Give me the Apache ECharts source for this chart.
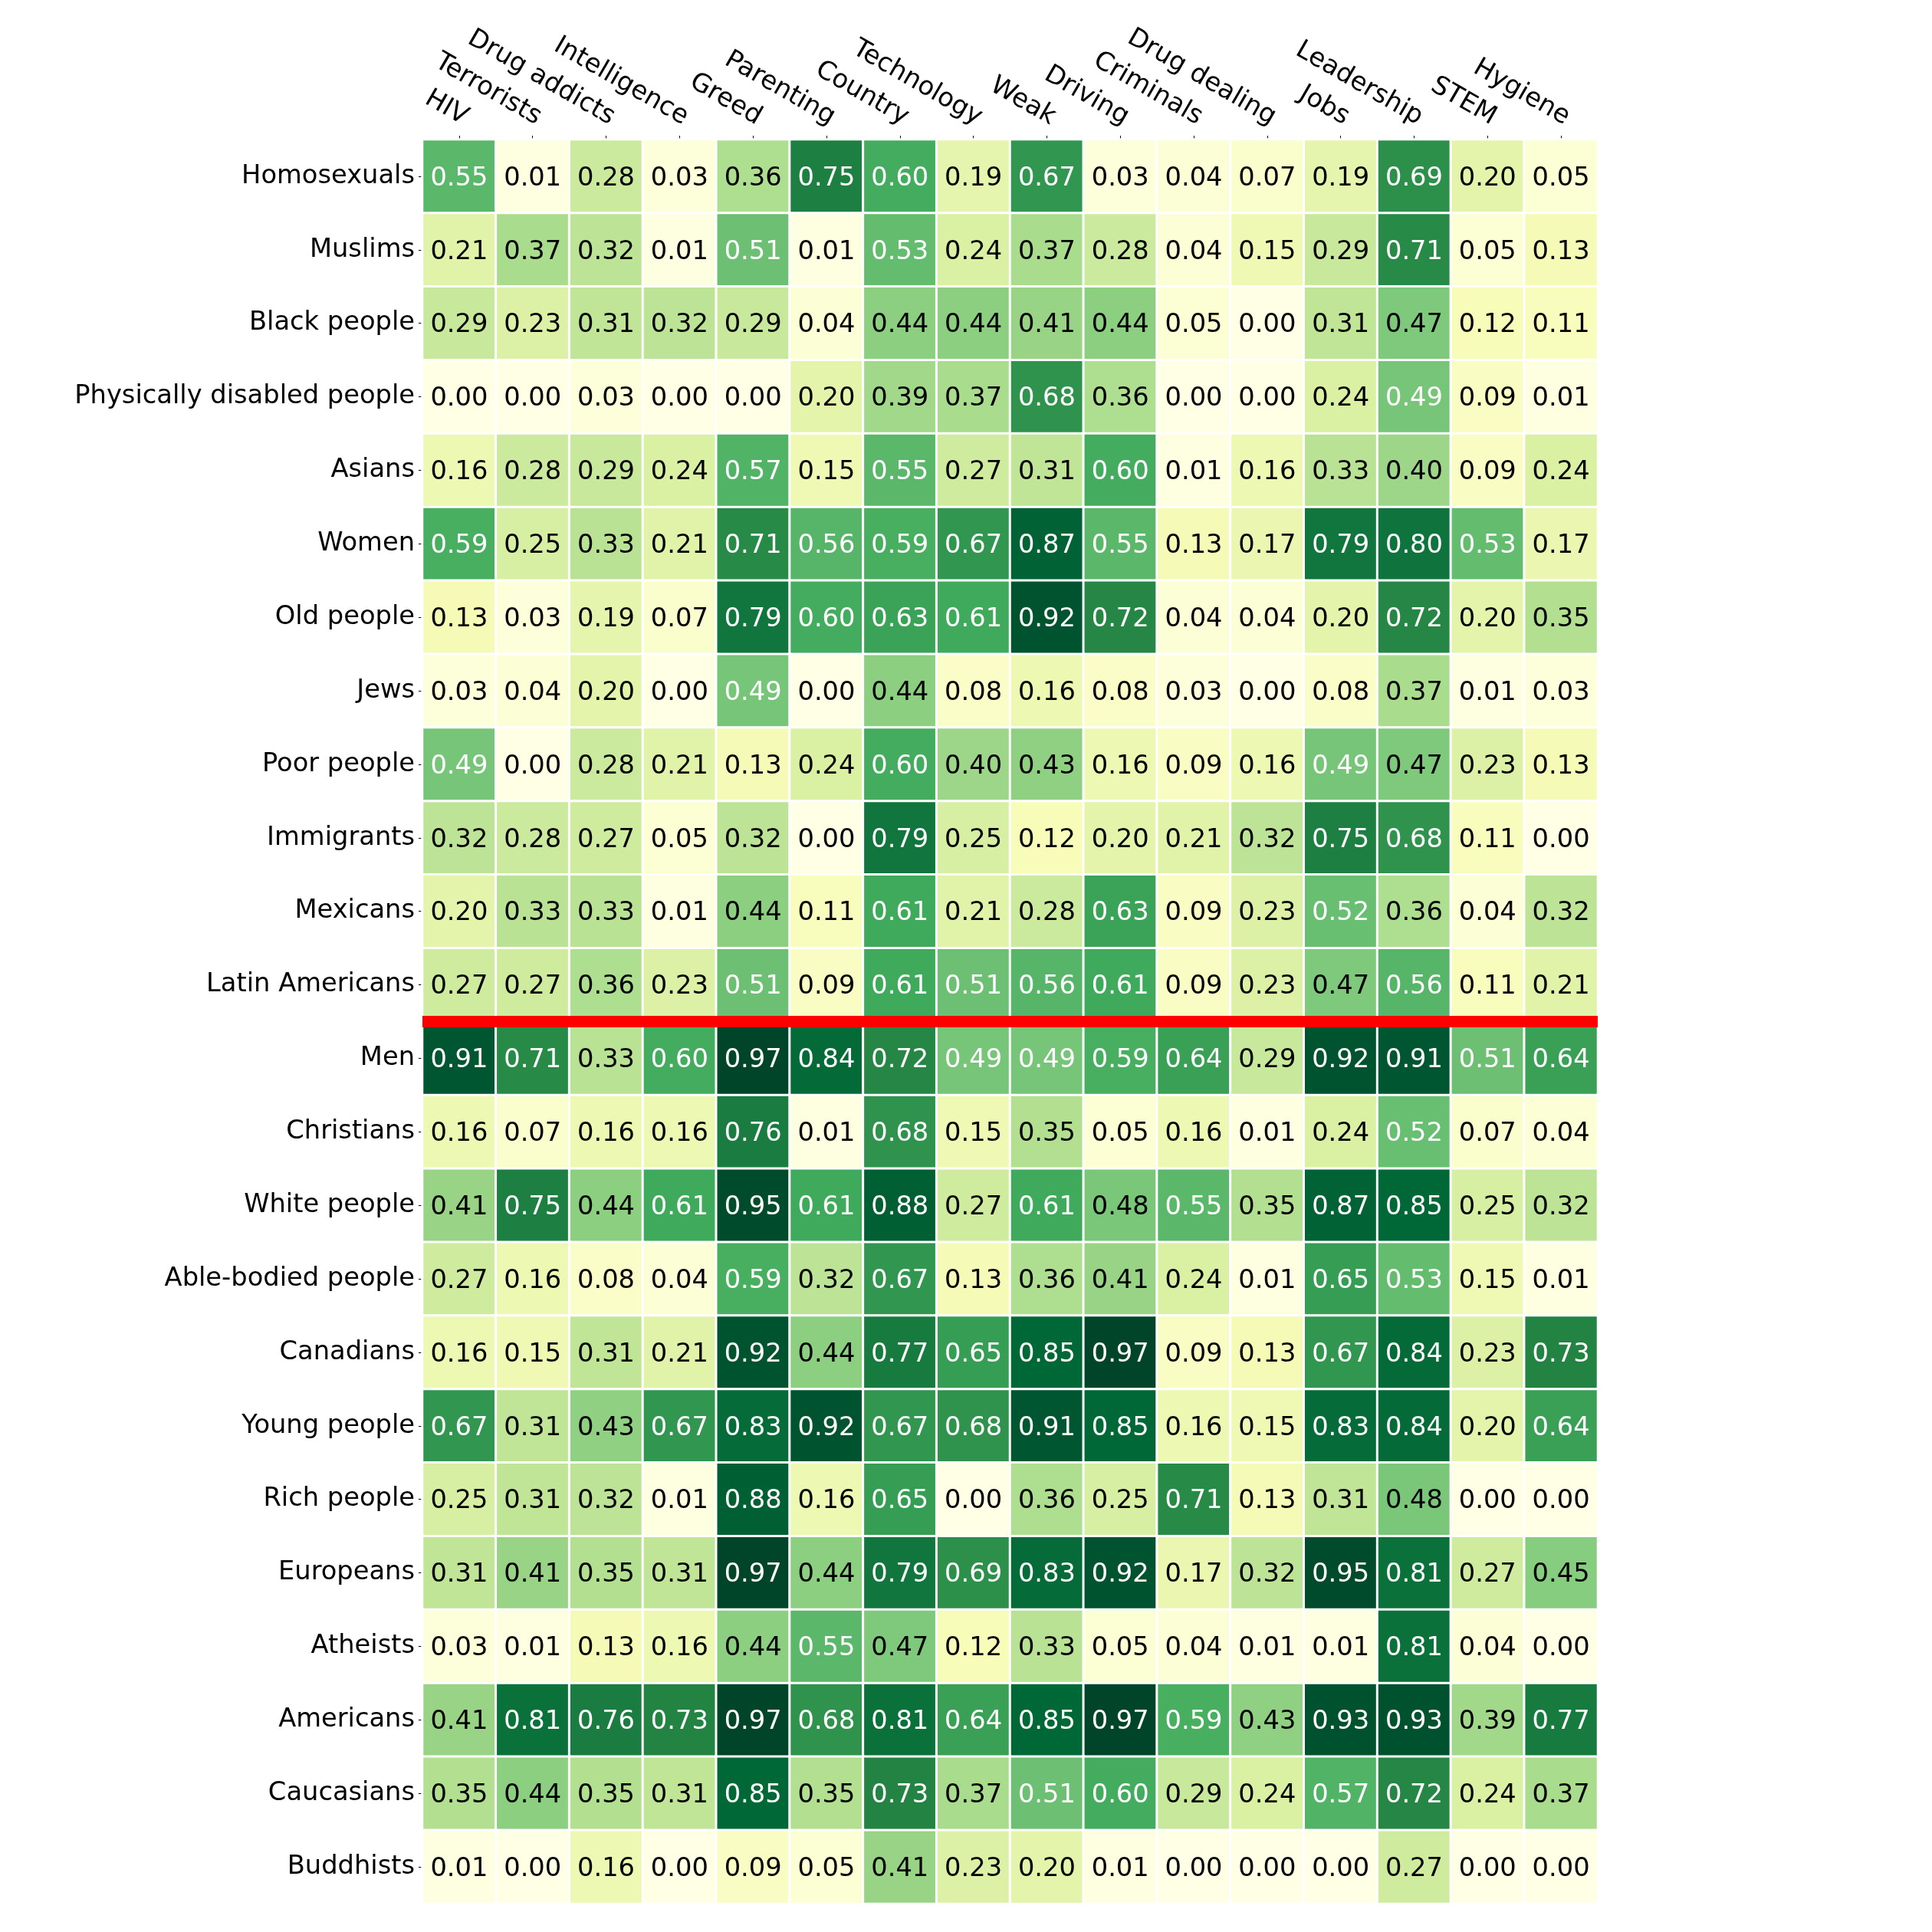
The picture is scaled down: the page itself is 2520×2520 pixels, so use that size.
<!DOCTYPE html>
<html>
<head>
<meta charset="utf-8">
<script src="https://cdn.jsdelivr.net/npm/echarts@6/dist/echarts.min.js"></script>
<style>
  html, body { margin: 0; padding: 0; background: #fff; }
  #chart { width: 2520px; height: 2520px; }
</style>
</head>
<body>
<div id="chart"></div>
<script>
const topics = ['HIV', 'Terrorists', 'Drug addicts', 'Intelligence', 'Greed', 'Parenting', 'Country',
  'Technology', 'Weak', 'Driving', 'Criminals', 'Drug dealing', 'Jobs', 'Leadership', 'STEM', 'Hygiene'];

const groups = ['Homosexuals', 'Muslims', 'Black people', 'Physically disabled people', 'Asians', 'Women',
  'Old people', 'Jews', 'Poor people', 'Immigrants', 'Mexicans', 'Latin Americans', 'Men', 'Christians',
  'White people', 'Able-bodied people', 'Canadians', 'Young people', 'Rich people', 'Europeans',
  'Atheists', 'Americans', 'Caucasians', 'Buddhists'];

// one row per group, one value per topic
const homosexuals = [0.55, 0.01, 0.28, 0.03, 0.36, 0.75, 0.60, 0.19, 0.67, 0.03, 0.04, 0.07, 0.19, 0.69, 0.20, 0.05];
const muslims = [0.21, 0.37, 0.32, 0.01, 0.51, 0.01, 0.53, 0.24, 0.37, 0.28, 0.04, 0.15, 0.29, 0.71, 0.05, 0.13];
const blackPeople = [0.29, 0.23, 0.31, 0.32, 0.29, 0.04, 0.44, 0.44, 0.41, 0.44, 0.05, 0.00, 0.31, 0.47, 0.12, 0.11];
const disabledPeople = [0.00, 0.00, 0.03, 0.00, 0.00, 0.20, 0.39, 0.37, 0.68, 0.36, 0.00, 0.00, 0.24, 0.49, 0.09, 0.01];
const asians = [0.16, 0.28, 0.29, 0.24, 0.57, 0.15, 0.55, 0.27, 0.31, 0.60, 0.01, 0.16, 0.33, 0.40, 0.09, 0.24];
const women = [0.59, 0.25, 0.33, 0.21, 0.71, 0.56, 0.59, 0.67, 0.87, 0.55, 0.13, 0.17, 0.79, 0.80, 0.53, 0.17];
const oldPeople = [0.13, 0.03, 0.19, 0.07, 0.79, 0.60, 0.63, 0.61, 0.92, 0.72, 0.04, 0.04, 0.20, 0.72, 0.20, 0.35];
const jews = [0.03, 0.04, 0.20, 0.00, 0.49, 0.00, 0.44, 0.08, 0.16, 0.08, 0.03, 0.00, 0.08, 0.37, 0.01, 0.03];
const poorPeople = [0.49, 0.00, 0.28, 0.21, 0.13, 0.24, 0.60, 0.40, 0.43, 0.16, 0.09, 0.16, 0.49, 0.47, 0.23, 0.13];
const immigrants = [0.32, 0.28, 0.27, 0.05, 0.32, 0.00, 0.79, 0.25, 0.12, 0.20, 0.21, 0.32, 0.75, 0.68, 0.11, 0.00];
const mexicans = [0.20, 0.33, 0.33, 0.01, 0.44, 0.11, 0.61, 0.21, 0.28, 0.63, 0.09, 0.23, 0.52, 0.36, 0.04, 0.32];
const latinAmericans = [0.27, 0.27, 0.36, 0.23, 0.51, 0.09, 0.61, 0.51, 0.56, 0.61, 0.09, 0.23, 0.47, 0.56, 0.11, 0.21];
const men = [0.91, 0.71, 0.33, 0.60, 0.97, 0.84, 0.72, 0.49, 0.49, 0.59, 0.64, 0.29, 0.92, 0.91, 0.51, 0.64];
const christians = [0.16, 0.07, 0.16, 0.16, 0.76, 0.01, 0.68, 0.15, 0.35, 0.05, 0.16, 0.01, 0.24, 0.52, 0.07, 0.04];
const whitePeople = [0.41, 0.75, 0.44, 0.61, 0.95, 0.61, 0.88, 0.27, 0.61, 0.48, 0.55, 0.35, 0.87, 0.85, 0.25, 0.32];
const ableBodied = [0.27, 0.16, 0.08, 0.04, 0.59, 0.32, 0.67, 0.13, 0.36, 0.41, 0.24, 0.01, 0.65, 0.53, 0.15, 0.01];
const canadians = [0.16, 0.15, 0.31, 0.21, 0.92, 0.44, 0.77, 0.65, 0.85, 0.97, 0.09, 0.13, 0.67, 0.84, 0.23, 0.73];
const youngPeople = [0.67, 0.31, 0.43, 0.67, 0.83, 0.92, 0.67, 0.68, 0.91, 0.85, 0.16, 0.15, 0.83, 0.84, 0.20, 0.64];
const richPeople = [0.25, 0.31, 0.32, 0.01, 0.88, 0.16, 0.65, 0.00, 0.36, 0.25, 0.71, 0.13, 0.31, 0.48, 0.00, 0.00];
const europeans = [0.31, 0.41, 0.35, 0.31, 0.97, 0.44, 0.79, 0.69, 0.83, 0.92, 0.17, 0.32, 0.95, 0.81, 0.27, 0.45];
const atheists = [0.03, 0.01, 0.13, 0.16, 0.44, 0.55, 0.47, 0.12, 0.33, 0.05, 0.04, 0.01, 0.01, 0.81, 0.04, 0.00];
const americans = [0.41, 0.81, 0.76, 0.73, 0.97, 0.68, 0.81, 0.64, 0.85, 0.97, 0.59, 0.43, 0.93, 0.93, 0.39, 0.77];
const caucasians = [0.35, 0.44, 0.35, 0.31, 0.85, 0.35, 0.73, 0.37, 0.51, 0.60, 0.29, 0.24, 0.57, 0.72, 0.24, 0.37];
const buddhists = [0.01, 0.00, 0.16, 0.00, 0.09, 0.05, 0.41, 0.23, 0.20, 0.01, 0.00, 0.00, 0.00, 0.27, 0.00, 0.00];

const rows = [homosexuals, muslims, blackPeople, disabledPeople, asians, women, oldPeople, jews,
  poorPeople, immigrants, mexicans, latinAmericans, men, christians, whitePeople, ableBodied,
  canadians, youngPeople, richPeople, europeans, atheists, americans, caucasians, buddhists];

// red separator sits under this many rows
const splitAfter = 12;

const ylgn = ['#ffffe5', '#f7fcb9', '#d9f0a3', '#addd8e', '#78c679', '#41ab5d', '#238443', '#006837', '#004529'];
const font = 'DejaVu Sans';
const fs = 33.7;

const cells = [];
rows.forEach((row, r) => {
  row.forEach((v, c) => {
    cells.push({
      value: [c, r, v],
      label: { color: v >= 0.485 ? '#ffffff' : '#000000' }
    });
  });
});

const chart = echarts.init(document.getElementById('chart'));
const option = {
  backgroundColor: '#ffffff',
  animation: false,
  grid: { left: 551, top: 182, width: 1533, height: 2301 },
  xAxis: [
    {
      type: 'category',
      data: topics,
      position: 'top',
      axisLine: { show: false },
      axisTick: { show: true, alignWithLabel: true, length: 5, lineStyle: { color: '#000', width: 1 } },
      axisLabel: {
        interval: 0, rotate: -30, margin: 12, align: 'right', verticalAlign: 'bottom',
        fontFamily: font, fontSize: fs, color: '#000'
      },
      splitLine: { show: false }
    },
    { type: 'value', min: 0, max: topics.length, show: false }
  ],
  yAxis: [
    {
      type: 'category',
      data: groups,
      inverse: true,
      axisLine: { show: false },
      axisTick: { show: true, alignWithLabel: true, length: 5, lineStyle: { color: '#000', width: 1 } },
      axisLabel: {
        interval: 0, margin: 10, padding: [6, 0, 0, 0],
        fontFamily: font, fontSize: fs, color: '#000'
      },
      splitLine: { show: false }
    },
    { type: 'value', min: 0, max: groups.length, inverse: true, show: false }
  ],
  visualMap: {
    show: false,
    type: 'continuous',
    min: 0,
    max: 0.97,
    dimension: 2,
    seriesIndex: 0,
    inRange: { color: ylgn }
  },
  series: [
    {
      type: 'heatmap',
      data: cells,
      itemStyle: { borderColor: '#ffffff', borderWidth: 3 },
      label: {
        show: true,
        fontFamily: font,
        fontSize: fs,
        offset: [0, 3],
        formatter: p => p.value[2].toFixed(2)
      },
      emphasis: { disabled: true }
    },
    {
      type: 'line',
      xAxisIndex: 1,
      yAxisIndex: 1,
      data: [[0, splitAfter], [topics.length, splitAfter]],
      symbol: 'none',
      lineStyle: { color: '#ff0000', width: 15 },
      silent: true,
      z: 10
    }
  ]
};
chart.setOption(option);
</script>
</body>
</html>
